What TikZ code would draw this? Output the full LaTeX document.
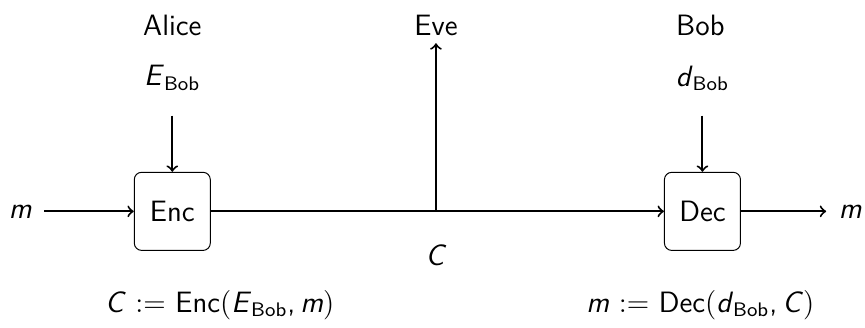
\documentclass[tikz,border=0pt]{standalone}
\usetikzlibrary{positioning}

\renewcommand{\familydefault}{\sfdefault}
\newcommand{\var}[1]{\textit{#1}}
\newcommand{\owner}[2]{\var{#1}\textsubscript{Bob}}

\begin{document}
\begin{tikzpicture}[
    x=1cm, y=1cm,
    font=\sffamily\large,
    %% Columns: Alice x = 2.47, Eve x = 6.25, Bob x = 10.07
    %% Main channel at y = -3.03
    party/.style={font=\sffamily\large},
    cbox/.style={draw, rounded corners=3pt, minimum width=1.09cm,
                 minimum height=1.12cm},
    lbl/.style={inner sep=5pt},
    flow/.style={->, thick},
]

%% ── Bounding box ─────────────────────────────────────────────────────────
\useasboundingbox (0,0) rectangle (12.4,-4.69);

%% ── Parties ──────────────────────────────────────────────────────────────
\node[party] (alice) at (2.47,-0.36)  {Alice};
\node[party] (eve)   at (6.25,-0.36)  {Eve};
\node[party] (bob)   at (10.04,-0.36) {Bob};

%% ── Keys ─────────────────────────────────────────────────────────────────
\node[lbl, inner sep=10pt] (ebob) at (2.47,-1.12)  {\owner{E}{}};
\node[lbl, inner sep=10pt] (dbob) at (10.07,-1.12) {\owner{d}{}};

%% ── Boxes ────────────────────────────────────────────────────────────────
\node[cbox] (enc) at (2.47,-3.03)  {Enc};
\node[cbox] (dec) at (10.07,-3.03) {Dec};

%% ── Message ends ─────────────────────────────────────────────────────────
\node[lbl] (min)  at (0.29,-3.03)  {\var{m}};
\node[lbl] (mout) at (12.19,-3.03) {\var{m}};

%% ── Channel ──────────────────────────────────────────────────────────────
\coordinate (tap) at (6.25,-3.03);
\coordinate (evetop) at (6.25,-0.62);
\node (ctext) at (6.25,-3.66) {\var{C}};

\draw[flow] (min) -- (enc);
\draw[flow] (ebob) -- (enc);
\draw[flow] (dbob) -- (dec);
\draw[flow] (enc) -- (dec);
\draw[flow] (tap) -- (evetop);
\draw[flow] (dec) -- (mout);

%% ── Formulas ─────────────────────────────────────────────────────────────
\node (encf) at (3.15,-4.37)
    {\var{C} $:=$ Enc$($\owner{E}{},\,\var{m}$)$};
\node (decf) at (10.04,-4.37)
    {\var{m} $:=$ Dec$($\owner{d}{},\,\var{C}$)$};

\end{tikzpicture}
\end{document}
